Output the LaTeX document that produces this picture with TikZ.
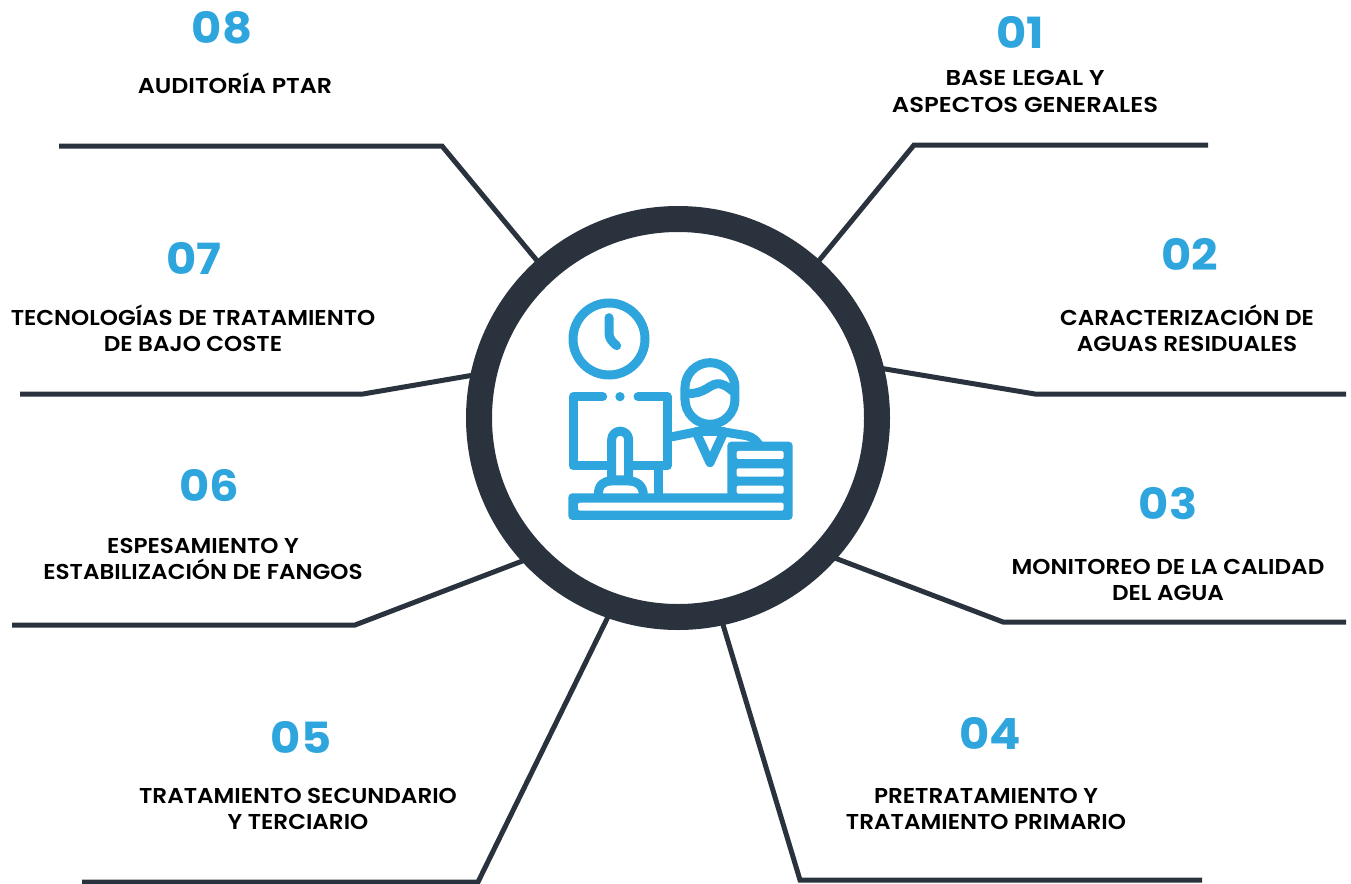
\documentclass[tikz,border=0pt]{standalone}
\usepackage{fontspec}
\usepackage{graphicx}
\setmainfont{Poppins}[FakeStretch=1.075,BoldFont={Poppins SemiBold}]
\newfontfamily\numfont{Poppins}[FakeStretch=1.08]
\usetikzlibrary{backgrounds}
\definecolor{inkdark}{HTML}{2A333D}
\definecolor{skyblue}{HTML}{2FA5DE}
\tikzset{
  x=1pt,y=-1pt,
  link/.style={draw=inkdark,line width=5pt,line join=miter},
  hubring/.style={circle,draw=inkdark,line width=26pt,fill=white,minimum size=398pt,inner sep=0pt,outer sep=0pt},
  numlabel/.style={text=skyblue,font=\numfont\fontsize{43}{43}\selectfont\bfseries,inner sep=0pt},
  toplabel/.style={text=black,font=\fontsize{21.5}{26}\selectfont\bfseries,align=center,inner sep=0pt},
  icoline/.style={draw=skyblue,line width=9pt,line cap=round,line join=round},
  icofill/.style={fill=skyblue,rounded corners=4pt},
  icoslot/.style={fill=white,rounded corners=2pt}
}
\begin{document}
\begin{tikzpicture}
\useasboundingbox (0,0) rectangle (1351,883);
\node[hubring] (hub) at (678,418) {};
\coordinate (e1) at (914,145); \coordinate (f1) at (1208,145);
\coordinate (e2) at (1035,394); \coordinate (f2) at (1346,394);
\coordinate (e3) at (1003,622); \coordinate (f3) at (1346,622);
\coordinate (e4) at (800,880); \coordinate (f4) at (1202,880);
\coordinate (e5) at (478,882); \coordinate (f5) at (82,882);
\coordinate (e6) at (355,625); \coordinate (f6) at (12,625);
\coordinate (e7) at (363,394); \coordinate (f7) at (20,394);
\coordinate (e8) at (442,146); \coordinate (f8) at (59,146);
\begin{pgfonlayer}{background}
\draw[link] (hub.48) -- (e1) -- (f1);
\draw[link] (hub.15.3) -- (e2) -- (f2);
\draw[link] (hub.-43.2) -- (e3) -- (f3);
\draw[link] (hub.-78.4) -- (e4) -- (f4);
\draw[link] (hub.-109.4) -- (e5) -- (f5);
\draw[link] (hub.224.4) -- (e6) -- (f6);
\draw[link] (hub.167.5) -- (e7) -- (f7);
\draw[link] (hub.132) -- (e8) -- (f8);
\end{pgfonlayer}
\node[numlabel] (n1) at (1020,32) {01};
\node[numlabel] (n2) at (1190,254) {02};
\node[numlabel] (n3) at (1168,504) {03};
\node[numlabel] (n4) at (990,733) {04};
\node[numlabel] (n5) at (301,737) {05};
\node[numlabel] (n6) at (209,486) {06};
\node[numlabel] (n7) at (194,258) {07};
\node[numlabel] (n8) at (222,28) {08};
\node[toplabel] (t1) at (1025,94) {\scalebox{1.05}[1]{\begin{tabular}{@{}c@{}}BASE LEGAL Y\\[0.6pt]ASPECTOS GENERALES\end{tabular}}};
\node[toplabel] (t2) at (1187,328.5) {CARACTERIZACIÓN DE\\AGUAS RESIDUALES};
\node[toplabel] (t3) at (1168,579.5) {MONITOREO DE LA CALIDAD\\DEL AGUA};
\node[toplabel] (t4) at (986,809) {PRETRATAMIENTO Y\\TRATAMIENTO PRIMARIO};
\node[toplabel] (t5) at (298,809) {TRATAMIENTO SECUNDARIO\\Y TERCIARIO};
\node[toplabel] (t6) at (203,558.5) {ESPESAMIENTO Y\\ESTABILIZACIÓN DE FANGOS};
\node[toplabel] (t7) at (193,328) {TECNOLOGÍAS DE TRATAMIENTO\\DE BAJO COSTE};
\node[toplabel] (t8) at (235,83) {\scalebox{1.027}[1]{AUDITORÍA PTAR}};
% icon, in units of 1/3 px
\begin{scope}[shift={(550,280)},x=0.3333pt,y=-0.3333pt]
\draw[skyblue,line width=9pt] (177,177) circle (108);
\draw[icoline] (177,113) -- (177,160) .. controls (177,175) and (187,187) .. (200,197);
% monitor
\draw[icoline] (158,350) -- (70,350) -- (70,558) -- (185,558);
\draw[icoline] (264,350) -- (352,350) -- (352,558) -- (236,558);
\fill[skyblue] (210,350) circle (14);
% stand
\draw[skyblue,line width=9pt,line join=round] (185,600) -- (185,479) arc (180:360:25.5) -- (236,600) -- cycle;
\draw[icoline] (145,645) .. controls (145,615) and (160,603) .. (185,603) -- (236,603) .. controls (262,603) and (280,618) .. (280,645);
\draw[skyblue,line width=9pt] (325,558) -- (325,645);
% desk
\fill[icofill] (55,640) rectangle (728,720);
\fill[icoslot] (84,668) rectangle (701,692);
% head
\draw[skyblue,line width=9pt] (405,323) arc (180:360:75) -- (555,358) arc (0:180:75) -- cycle;
\draw[icoline] (408,340) .. controls (470,345) and (480,305) .. (512,312) .. controls (530,316) and (540,328) .. (552,336);
% body
\draw[icoline] (368,470) -- (438,456) -- (480,548) -- (522,456) -- (590,467) .. controls (610,472) and (618,482) .. (628,495);
\draw[icoline] (438,456) -- (522,456);
% papers
\fill[icofill] (532,485) rectangle (728,660);
\fill[icoslot] (560,513) rectangle (701,537);
\fill[icoslot] (560,565) rectangle (701,590);
\fill[icoslot] (560,617) rectangle (701,641);
\end{scope}
\end{tikzpicture}
\end{document}
